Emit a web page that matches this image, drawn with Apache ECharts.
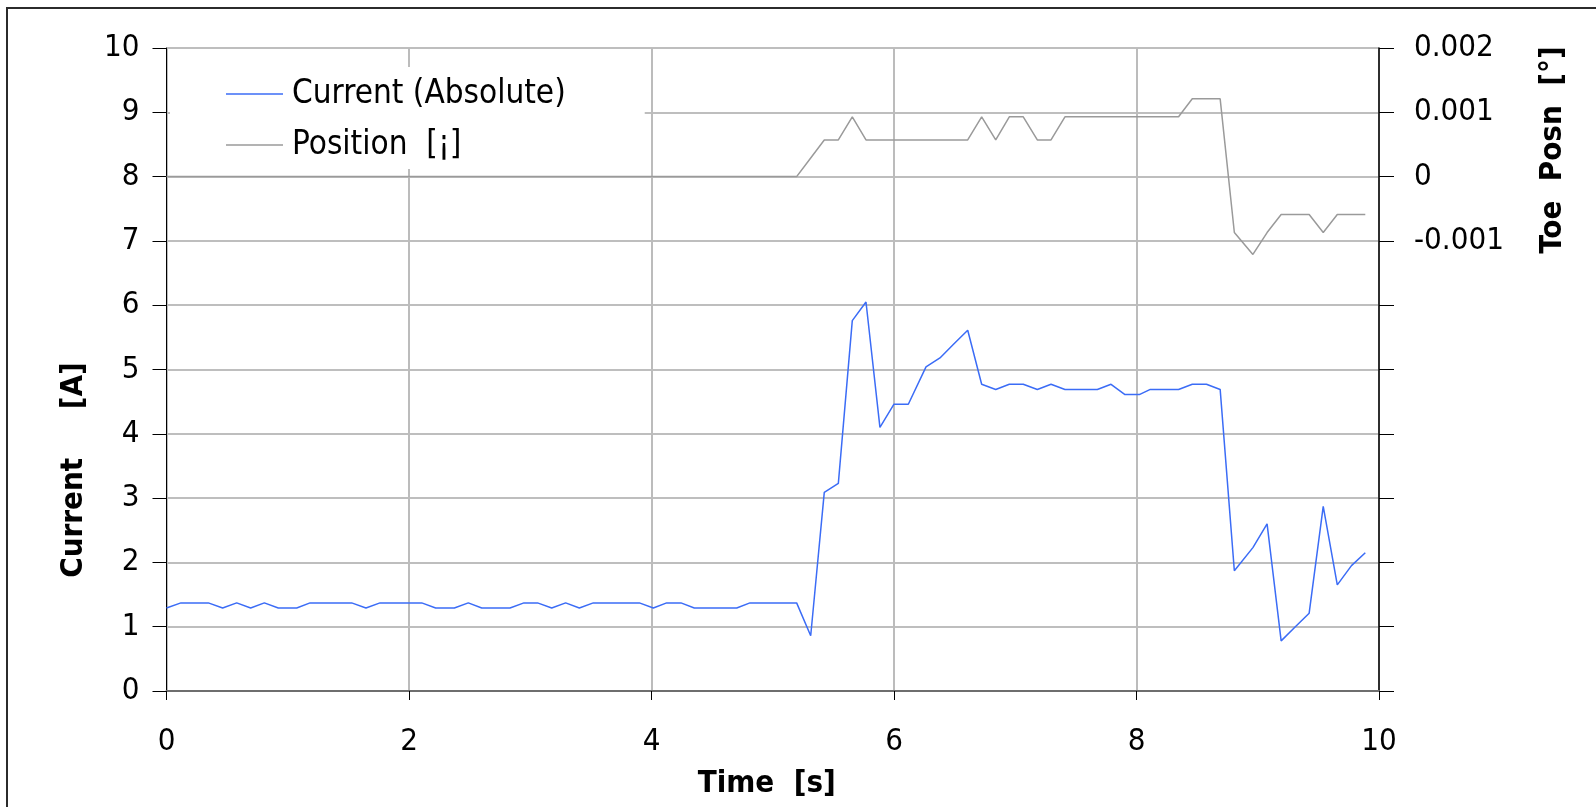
<!DOCTYPE html>
<html>
<head>
<meta charset="utf-8">
<script src="https://cdn.jsdelivr.net/npm/echarts@6/dist/echarts.min.js"></script>
<style>
  html, body { margin: 0; padding: 0; background: #ffffff; }
  #chart { width: 1596px; height: 807px; }
</style>
</head>
<body>
<div id="chart"></div>
<script>
// Sample times (s) of the logged motor data
const timeS = [
  0.00, 0.119, 0.235, 0.345, 0.463, 0.579, 0.694, 0.807, 0.922, 1.074,
  1.184, 1.307, 1.417, 1.527, 1.645, 1.761, 1.871, 1.989, 2.105, 2.22,
  2.374, 2.489, 2.60, 2.715, 2.833, 2.948, 3.06, 3.177, 3.292, 3.405,
  3.52, 3.672, 3.787, 3.90, 4.015, 4.125, 4.243, 4.353, 4.468, 4.584,
  4.703, 4.812, 4.963, 5.082, 5.197, 5.313, 5.425, 5.541, 5.656, 5.769,
  5.884, 6.00, 6.118, 6.264, 6.379, 6.495, 6.608, 6.723, 6.839, 6.951,
  7.066, 7.182, 7.295, 7.41, 7.526, 7.677, 7.79, 7.905, 8.023, 8.114,
  8.23, 8.347, 8.46, 8.577, 8.69, 8.807, 8.96, 9.077, 9.193, 9.31,
  9.424, 9.54, 9.656, 9.773, 9.887
];

// Absolute motor current (A)
const currentA = [
  1.29, 1.37, 1.37, 1.37, 1.29, 1.37, 1.29, 1.37, 1.29, 1.29,
  1.37, 1.37, 1.37, 1.37, 1.29, 1.37, 1.37, 1.37, 1.37, 1.29,
  1.29, 1.37, 1.29, 1.29, 1.29, 1.37, 1.37, 1.29, 1.37, 1.29,
  1.37, 1.37, 1.37, 1.37, 1.29, 1.37, 1.37, 1.29, 1.29, 1.29,
  1.29, 1.37, 1.37, 1.37, 1.37, 0.86, 3.09, 3.23, 5.76, 6.05,
  4.10, 4.46, 4.46, 5.04, 5.18, 5.40, 5.61, 4.77, 4.69, 4.77,
  4.77, 4.69, 4.77, 4.69, 4.69, 4.69, 4.77, 4.61, 4.61, 4.69,
  4.69, 4.69, 4.77, 4.77, 4.69, 1.87, 2.23, 2.60, 0.78, 1.00,
  1.21, 2.87, 1.65, 1.95, 2.15
];

// Toe position (deg)
const toePosnDeg = [
  0, 0, 0, 0, 0, 0, 0, 0, 0, 0,
  0, 0, 0, 0, 0, 0, 0, 0, 0, 0,
  0, 0, 0, 0, 0, 0, 0, 0, 0, 0,
  0, 0, 0, 0, 0, 0, 0, 0, 0, 0,
  0, 0, 0, 0, 0, 0.00029, 0.00057, 0.00057, 0.00093, 0.00057,
  0.00057, 0.00057, 0.00057, 0.00057, 0.00057, 0.00057, 0.00057, 0.00093, 0.00057, 0.00093,
  0.00093, 0.00057, 0.00057, 0.00093, 0.00093, 0.00093, 0.00093, 0.00093, 0.00093, 0.00093,
  0.00093, 0.00093, 0.00121, 0.00121, 0.00121, -0.00087, -0.00121, -0.00087, -0.00059, -0.00059,
  -0.00059, -0.00087, -0.00059, -0.00059, -0.00059
];

const seriesNames = ['Current (Absolute)', 'Position  [¡]'];
const axisTitles = { x: 'Time  [s]', left: 'Current     [A]', right: 'Toe  Posn  [°]' };

// Left current scale 0..10 A, right position scale shares the same gridlines
const currentAxis = { min: 0, max: 10, interval: 1 };
const posnAxis = { min: -0.008, max: 0.002, interval: 0.001, lowestLabel: -0.001 };
const timeAxis = { min: 0, max: 10, interval: 2 };

const FONT = "'DejaVu Sans Condensed', 'DejaVu Sans', sans-serif";
const BLUE = '#3b6cf6';
const GREY = '#9a9a9a';

const currentData = timeS.map((t, i) => [t, currentA[i]]);
const posnData = timeS.map((t, i) => [t, toePosnDeg[i]]);

const chart = echarts.init(document.getElementById('chart'), null, { renderer: 'canvas' });

chart.setOption({
  animation: false,
  backgroundColor: '#ffffff',
  grid: {
    left: 166.5, right: 217, top: 48, bottom: 116,
    containLabel: false, outerBoundsMode: 'none'
  },
  legend: {
    orient: 'vertical',
    left: 170, top: 67,
    padding: [9, 79, 6, 56],
    backgroundColor: '#ffffff',
    icon: 'rect',
    itemWidth: 57, itemHeight: 1.5, itemGap: 15,
    textStyle: { fontFamily: FONT, fontSize: 33, color: '#000', lineHeight: 36, padding: [0, 0, 0, 4] },
    data: seriesNames
  },
  xAxis: {
    type: 'value',
    min: timeAxis.min, max: timeAxis.max, interval: timeAxis.interval,
    name: axisTitles.x, nameLocation: 'middle', nameGap: 77,
    nameTextStyle: { fontFamily: FONT, fontSize: 31, fontWeight: 'bold', color: '#000', padding: [0, 12, 0, 0] },
    axisLine: { show: true, lineStyle: { color: '#6e6e6e', width: 2 } },
    axisTick: { show: true, inside: false, length: 9, lineStyle: { color: '#000', width: 1 } },
    axisLabel: { fontFamily: FONT, fontSize: 31, color: '#000', margin: 35 },
    splitLine: { show: true, lineStyle: { color: '#bcbcbc', width: 2 } }
  },
  yAxis: [
    {
      type: 'value', position: 'left',
      min: currentAxis.min, max: currentAxis.max, interval: currentAxis.interval,
      axisLine: { show: true, onZero: false, lineStyle: { color: '#000', width: 1 } },
      axisTick: { show: true, inside: false, length: 14, lineStyle: { color: '#000', width: 1 } },
      axisLabel: { fontFamily: FONT, fontSize: 31, color: '#000', margin: 27 },
      splitLine: { show: true, lineStyle: { color: '#a8a8a8', width: 1.5 } }
    },
    {
      type: 'value', position: 'right',
      min: posnAxis.min, max: posnAxis.max, interval: posnAxis.interval,
      axisLine: { show: true, onZero: false, lineStyle: { color: '#000', width: 1.5 } },
      axisTick: { show: true, inside: false, length: 15, lineStyle: { color: '#000', width: 1 } },
      axisLabel: {
        fontFamily: FONT, fontSize: 31, color: '#000', margin: 35,
        formatter: v => (v > posnAxis.lowestLabel - posnAxis.interval / 2) ? String(Number(v.toFixed(3))) : ''
      },
      splitLine: { show: false }
    },
    {
      // inner half of the right-hand tick marks
      type: 'value', position: 'right',
      min: currentAxis.min, max: currentAxis.max, interval: currentAxis.interval,
      axisLine: { show: false },
      axisTick: { show: true, inside: true, length: 9, lineStyle: { color: '#000', width: 1 } },
      axisLabel: { show: false },
      splitLine: { show: false }
    }
  ],
  series: [
    {
      name: seriesNames[0], type: 'line', yAxisIndex: 0,
      data: currentData, symbol: 'none', showSymbol: false,
      lineStyle: { color: BLUE, width: 1.5 }, itemStyle: { color: BLUE }, z: 3
    },
    {
      name: seriesNames[1], type: 'line', yAxisIndex: 1,
      data: posnData, symbol: 'none', showSymbol: false,
      lineStyle: { color: GREY, width: 1.5 }, itemStyle: { color: GREY }, z: 2
    }
  ],
  graphic: [
    {
      type: 'rect', silent: true, z: 100,
      shape: { x: 7, y: 8, width: 1700, height: 900 },
      style: { fill: 'none', stroke: '#2b2b2b', lineWidth: 2 }
    },
    {
      type: 'text', x: 74, y: 470, rotation: Math.PI / 2, silent: true,
      style: { text: axisTitles.left, font: "bold 31px " + FONT, fill: '#000', align: 'center', verticalAlign: 'middle' }
    },
    {
      type: 'text', x: 1553, y: 150, rotation: Math.PI / 2, silent: true,
      style: { text: axisTitles.right, font: "bold 31px " + FONT, fill: '#000', align: 'center', verticalAlign: 'middle' }
    }
  ]
});
</script>
</body>
</html>
